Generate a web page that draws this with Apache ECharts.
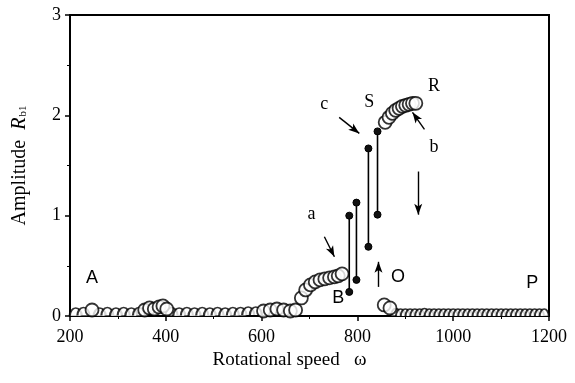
<!DOCTYPE html>
<html>
<head>
<meta charset="utf-8">
<script src="https://cdn.jsdelivr.net/npm/echarts@6/dist/echarts.min.js"></script>
<style>
  html, body { margin: 0; padding: 0; background: #fff; }
  #chart { width: 575px; height: 383px; }
</style>
</head>
<body>
<div id="chart"></div>
<script>
// low points sitting on the axis (drawn as arches, circle half hidden)
var lowSpeed = [212, 228, 262, 278, 296, 312, 328, 344, 412, 428, 444, 460, 476, 492, 508, 524, 540, 556, 572, 588];
var lowAmp   = [0.04, 0.045, 0.04, 0.045, 0.04, 0.045, 0.04, 0.045, 0.045, 0.04, 0.045, 0.04, 0.045, 0.04, 0.045, 0.04, 0.045, 0.045, 0.05, 0.05];

// open circles: bumps, rising branch, upper branch, restart after O
var ringSpeed = [246, 356, 366, 376, 386, 394, 402, 604, 618, 632, 646, 660,
                 671, 683, 692, 702, 712, 722, 732, 742, 752, 760, 768,
                 858, 866, 873, 880, 887, 894, 901, 908, 915, 922,
                 856, 868];
var ringAmp   = [0.06, 0.06, 0.08, 0.07, 0.09, 0.1, 0.07, 0.05, 0.06, 0.07, 0.06, 0.05,
                 0.06, 0.18, 0.26, 0.31, 0.34, 0.36, 0.37, 0.38, 0.39, 0.40, 0.42,
                 1.93, 1.98, 2.02, 2.05, 2.07, 2.09, 2.10, 2.11, 2.12, 2.12,
                 0.11, 0.08];

// dense hooks on the right tail
var tailSpeed = [880, 890, 900, 910, 920, 930, 940, 950, 960, 970, 980, 990, 1000, 1010, 1020, 1030, 1040,
                 1050, 1060, 1070, 1080, 1090, 1100, 1110, 1120, 1130, 1140, 1150, 1160, 1170, 1180, 1190];
var tailAmp   = [0.04, 0.035, 0.035, 0.035, 0.035, 0.035, 0.04, 0.035, 0.035, 0.035, 0.035, 0.035, 0.035, 0.035, 0.035, 0.035, 0.035,
                 0.035, 0.035, 0.035, 0.035, 0.035, 0.035, 0.035, 0.035, 0.035, 0.035, 0.035, 0.035, 0.035, 0.035, 0.035];

// jump segments (black dots joined by vertical lines)
var jumpSpeed = [783, 798, 823, 842];
var jumpLow   = [0.24, 0.36, 0.69, 1.01];
var jumpHigh  = [1.00, 1.13, 1.67, 1.84];

// annotation letters
var noteText  = ['A', 'B', 'O', 'P', 'a', 'c', 'S', 'R', 'b'];
var noteSpeed = [246, 760, 885, 1165, 704, 731, 825, 960, 960];
var noteAmp   = [0.38, 0.18, 0.39, 0.33, 1.01, 2.11, 2.13, 2.29, 1.68];
var noteSerif = [false, false, false, false, true, true, true, true, true];

// arrows: tail -> head
var arrowFrom = [[731, 0.79], [762, 1.98], [940, 1.86], [927, 1.44], [844, 0.29]];
var arrowTo   = [[752, 0.59], [804, 1.82], [915, 2.03], [927, 1.01], [844, 0.54]];

var xTicks = [200, 1200, 200];
var yTicks = [0, 3, 1];

var serif = '"Liberation Serif", "DejaVu Serif", serif';
var sans = '"Liberation Sans", Arial, sans-serif';

function pairs(xs, ys) {
  return xs.map(function(x, i) { return [x, ys[i]]; });
}

var series = [];

series.push({
  type: 'scatter',
  data: pairs(lowSpeed, lowAmp),
  symbol: 'path://M0,6A6,6,0,0,1,12,6',
  symbolSize: [12, 8],
  itemStyle: { color: '#fff', borderColor: '#000', borderWidth: 1.8 },
  z: 3
});

series.push({
  type: 'scatter',
  data: pairs(tailSpeed, tailAmp),
  symbol: 'path://M0,6A6,6,0,0,1,12,6',
  symbolSize: [9, 7],
  itemStyle: { color: '#fff', borderColor: '#000', borderWidth: 1.8 },
  z: 3
});

series.push({
  type: 'scatter',
  data: pairs(ringSpeed, ringAmp),
  symbol: 'circle',
  symbolSize: 13,
  itemStyle: { color: '#fff', borderColor: '#000', borderWidth: 1.8 },
  z: 4
});

jumpSpeed.forEach(function(w, i) {
  series.push({
    type: 'line',
    data: [[w, jumpLow[i]], [w, jumpHigh[i]]],
    symbol: 'circle',
    symbolSize: 7,
    showSymbol: true,
    lineStyle: { color: '#000', width: 1.6 },
    itemStyle: { color: '#111', borderColor: '#000', borderWidth: 1 },
    z: 5
  });
});

// letters and arrows
series.push({
  type: 'scatter',
  silent: true,
  data: noteText.map(function(t, i) {
    return {
      value: [noteSpeed[i], noteAmp[i]],
      name: t,
      label: { fontFamily: noteSerif[i] ? serif : sans }
    };
  }),
  symbolSize: 1,
  itemStyle: { color: '#fff', opacity: 1 },
  label: {
    show: true,
    position: 'inside',
    formatter: '{b}',
    color: '#000',
    textBorderWidth: 0,
    fontSize: 18
  },
  markLine: {
    silent: true,
    symbol: ['none', 'arrow'],
    symbolSize: [6, 11],
    label: { show: false },
    lineStyle: { color: '#000', width: 1.4, type: 'solid' },
    data: arrowFrom.map(function(f, i) {
      return [{ coord: f }, { coord: arrowTo[i] }];
    })
  },
  z: 6
});

var chart = echarts.init(document.getElementById('chart'), null, { renderer: 'canvas' });
chart.setOption({
  animation: false,
  backgroundColor: '#fff',
  grid: {
    left: 70, right: 26, top: 15, bottom: 67,
    show: true,
    borderColor: '#000',
    borderWidth: 2
  },
  xAxis: {
    type: 'value',
    min: xTicks[0],
    max: xTicks[1],
    interval: xTicks[2],
    name: 'Rotational speed   \u03c9',
    nameLocation: 'middle',
    nameGap: 35,
    nameTextStyle: { fontFamily: serif, fontSize: 19, color: '#000', padding: [0, 40, 0, 0] },
    axisLine: { lineStyle: { color: '#000', width: 2 } },
    axisTick: { show: true, length: 5, lineStyle: { color: '#000', width: 1.5 } },
    minorTick: { show: true, splitNumber: 2, length: 3, lineStyle: { color: '#000', width: 1 } },
    axisLabel: {
      fontFamily: serif, fontSize: 18, color: '#000', margin: 12,
      formatter: function(v) { return String(v); }
    },
    splitLine: { show: false }
  },
  yAxis: {
    type: 'value',
    min: yTicks[0],
    max: yTicks[1],
    interval: yTicks[2],
    name: 'Amplitude  {i|R}{s|b1}',
    nameLocation: 'middle',
    nameGap: 40,
    nameTextStyle: {
      fontFamily: serif, fontSize: 20, color: '#000',
      rich: {
        i: { fontFamily: serif, fontSize: 20, fontStyle: 'italic', color: '#000' },
        s: { fontFamily: serif, fontSize: 11, color: '#000', padding: [7, 0, 0, 1] }
      }
    },
    axisLine: { lineStyle: { color: '#000', width: 2 } },
    axisTick: { show: true, length: 5, lineStyle: { color: '#000', width: 1.5 } },
    minorTick: { show: true, splitNumber: 2, length: 3, lineStyle: { color: '#000', width: 1 } },
    axisLabel: { fontFamily: serif, fontSize: 18, color: '#000', margin: 9 },
    splitLine: { show: false }
  },
  series: series
});
window.addEventListener('resize', function() { chart.resize(); });
</script>
</body>
</html>
